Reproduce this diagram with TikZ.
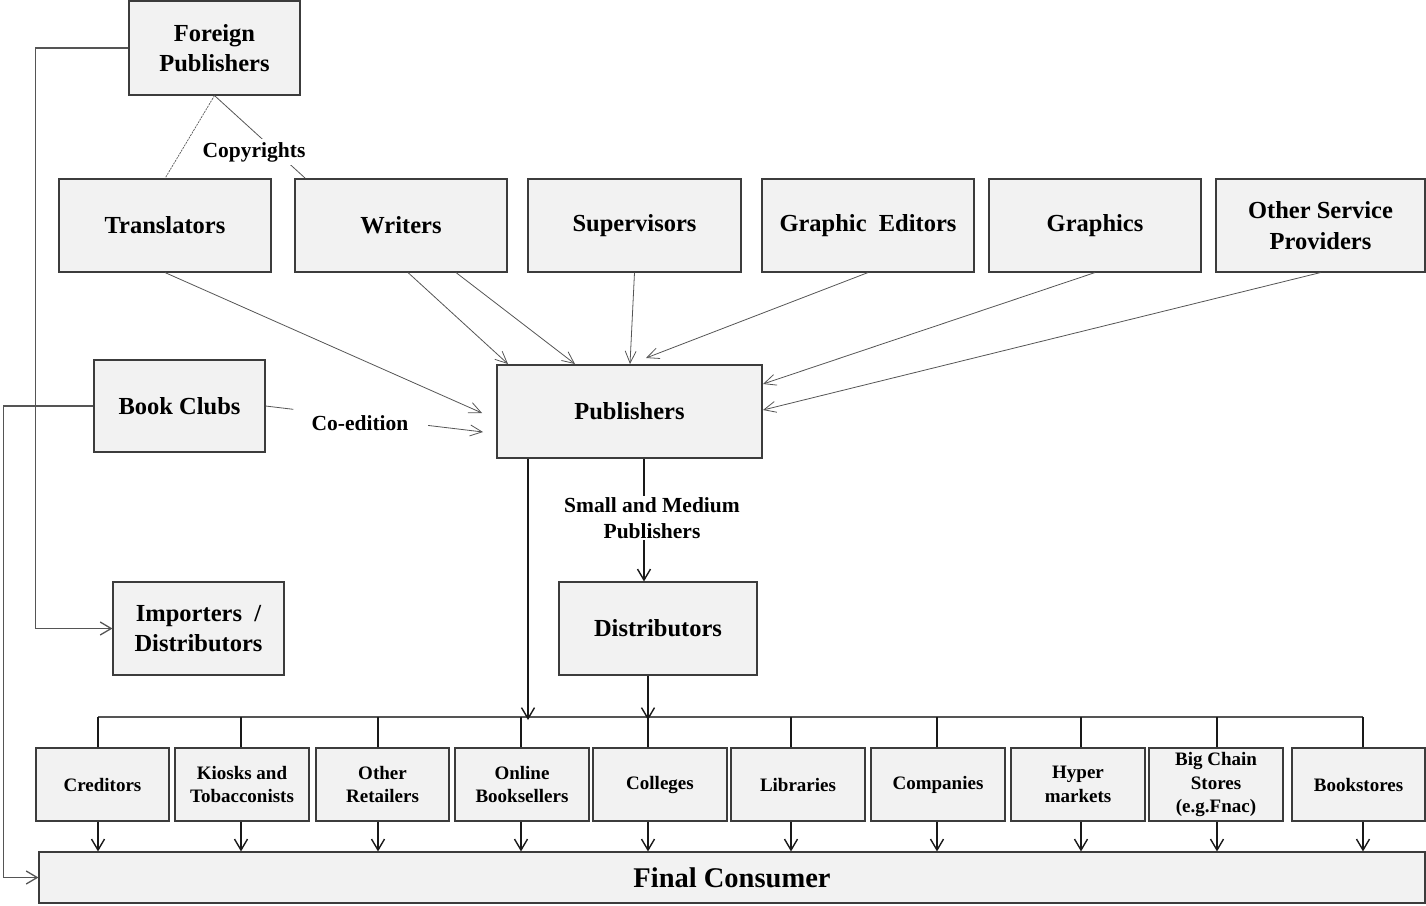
\documentclass[tikz,border=0pt]{standalone}
\usepackage{fontspec}
\setmainfont{Liberation Serif}
\usetikzlibrary{arrows.meta,calc}
\definecolor{boxfill}{RGB}{242,242,242}
\definecolor{boxline}{RGB}{60,60,60}
\definecolor{conn}{RGB}{85,85,85}
\definecolor{dark}{RGB}{25,25,25}
\begin{document}
\begin{tikzpicture}[x=1pt,y=-1pt,
  box/.style={draw=boxline, fill=boxfill, line width=1.1pt, rectangle, inner sep=0pt, align=center,
    font=\bfseries\fontsize{24.5}{30.5}\selectfont},
  sbox/.style={box, minimum width=134, minimum height=73, font=\bfseries\fontsize{19}{23.5}\selectfont},
  lbl/.style={font=\bfseries\fontsize{21.5}{26}\selectfont, align=center, fill=white, inner sep=1.5pt},
  tipV/.style={-{Straight Barb[length=11pt,width=13pt]}},
  tipW/.style={-{Straight Barb[length=12pt,width=11pt]}},
  thin/.style={draw=conn, line width=0.8pt},
  thick/.style={draw=dark, line width=1.4pt},
  route/.style={draw=conn, line width=1.3pt}
]
\useasboundingbox (0,0) rectangle (1426,905);

% top nodes
\node[box, minimum width=171, minimum height=94] (fp) at (214.5,48) {Foreign\\Publishers};
\node[box, minimum width=212, minimum height=93] (tr) at (165,225.5) {Translators};
\node[box, minimum width=212, minimum height=93] (wr) at (401,225.5) {Writers};
\node[box, minimum width=213, minimum height=93] (sup) at (634.5,225.5) {Supervisors};
\node[box, minimum width=212, minimum height=93] (ge) at (868,225.5) {Graphic\ \ Editors};
\node[box, minimum width=212, minimum height=93] (gr) at (1095,225.5) {Graphics};
\node[box, minimum width=209, minimum height=93] (osp) at (1320.5,225.5) {Other Service\\Providers};

% middle nodes
\node[box, minimum width=171, minimum height=92] (bc) at (179.5,406) {Book Clubs};
\node[box, minimum width=265, minimum height=93] (pub) at (629.5,411.5) {Publishers};
\node[box, minimum width=198, minimum height=93] (dist) at (658,628.5) {Distributors};
\node[box, minimum width=171, minimum height=93] (imp) at (198.5,628.5) {Importers\ \ /\\Distributors};

% bottom row
\node[sbox, minimum width=133] (cred) at (102.5,784.5) {Creditors};
\node[sbox] (kio) at (242,784.5) {Kiosks and\\Tobacconists};
\node[sbox, minimum width=133] (oret) at (382.5,784.5) {Other\\Retailers};
\node[sbox] (onl) at (522,784.5) {Online\\Booksellers};
\node[sbox] (col) at (660,784.5) {Colleges};
\node[sbox] (lib) at (798,784.5) {Libraries};
\node[sbox] (comp) at (938,784.5) {Companies};
\node[sbox] (hyp) at (1078,784.5) {Hyper\\markets};
\node[sbox] (big) at (1216,784.5) {Big Chain\\Stores\\(e.g.Fnac)};
\node[sbox, minimum width=133] (bks) at (1358.5,784.5) {Bookstores};

\node[box, minimum width=1386, minimum height=51, font=\bfseries\fontsize{28.5}{32}\selectfont] (fc) at (732,877.5) {Final Consumer};

% arrow end points near Publishers
\coordinate (t1) at (482,413);
\coordinate (co) at (483,432);
\coordinate (w1) at (508,364);
\coordinate (w2) at (575,364);
\coordinate (s1) at (630,364);
\coordinate (g1) at (646,358);
\coordinate (g2) at (763,384);
\coordinate (o1) at (763,410);
\coordinate (wc) at (305,178);

% copyrights lines
\draw[draw=conn, line width=0.7pt, dash pattern=on 2pt off 1pt] (fp.south) -- (tr.north);
\draw[thin] (fp.south) -- (wc);
\node[lbl, inner ysep=3pt] (cpy) at (254,152) {Copyrights};

% arrows to publishers
\draw[thin, tipW] (tr.south) -- (t1);
\draw[thin, tipW] ([xshift=7]wr.south) -- (w1);
\draw[thin, tipW] ([xshift=55]wr.south) -- (w2);
\draw[thin, tipW] (sup.south) -- (s1);
\draw[thin, tipW] (ge.south) -- (g1);
\draw[thin, tipW] (gr.south) -- (g2);
\draw[thin, tipW] (osp.south) -- (o1);

% co-edition
\draw[thin] (bc.east) -- ($(bc.east)!0.128!(co)$);
\draw[thin, tipW] ($(bc.east)!0.748!(co)$) -- (co);
\node[font=\bfseries\fontsize{21.5}{26}\selectfont, inner sep=0pt] (coed) at (360,423) {Co-edition};

% routes on the left
\draw[route, tipV] (fp.west) -- ++(-93,0) |- (imp.west);
\draw[route, tipV] (bc.west) -- ++(-90,0) |- (fc.west);

% publishers -> distributors
\coordinate (pd) at (644,0);
\draw[thick, tipV] (pd |- pub.south) -- (pd |- dist.north);
\node[lbl] (smp) at (652,518) {Small and Medium\\Publishers};

% bus
\coordinate (d1) at (98,717);
\coordinate (d2) at (241,717);
\coordinate (d3) at (378,717);
\coordinate (d4) at (521,717);
\coordinate (d5) at (648,717);
\coordinate (d6) at (791,717);
\coordinate (d7) at (937,717);
\coordinate (d8) at (1081,717);
\coordinate (d9) at (1217,717);
\coordinate (d10) at (1363,717);
\draw[draw=conn, line width=1.1pt] (d1) -- (d10);

\coordinate (pa) at (528,720);
\draw[thick, tipV] (pa |- pub.south) -- (pa);
\coordinate (da) at (648,720);
\draw[thick, tipV] (da |- dist.south) -- (da);

\foreach \d/\b in {d1/cred,d2/kio,d3/oret,d4/onl,d5/col,d6/lib,d7/comp,d8/hyp,d9/big,d10/bks}{
  \draw[thick] (\d) -- (\d |- \b.north);
  \draw[thick, tipV] (\d |- \b.south) -- (\d |- fc.north);
}
\end{tikzpicture}
\end{document}
